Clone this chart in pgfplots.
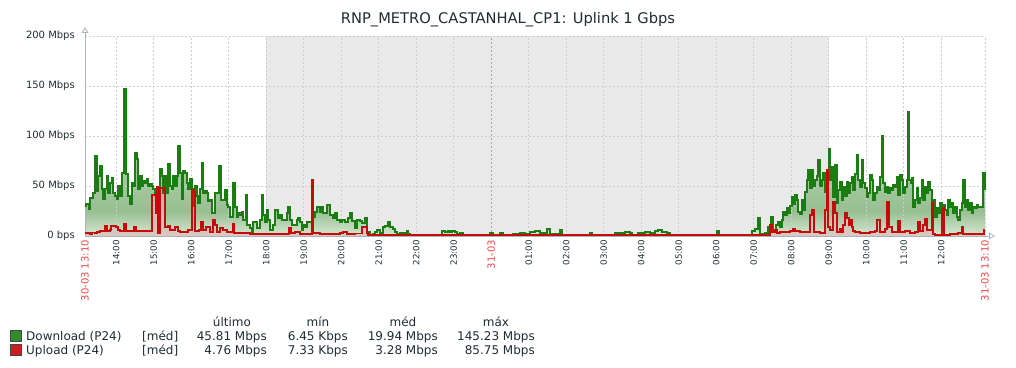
\documentclass[border=0pt]{standalone}
\usepackage{fontspec}
\setmainfont{DejaVu Sans}
\usepackage{pgfplots}
\pgfplotsset{compat=1.18}
\usetikzlibrary{arrows.meta}
\definecolor{zgreen}{HTML}{1A7C11}
\definecolor{zred}{HTML}{C40A0A}
\definecolor{gbot}{RGB}{214,231,209}
\definecolor{gmid}{RGB}{152,191,147}
\definecolor{gmidb}{RGB}{162,198,157}
\definecolor{gtop}{RGB}{176,207,171}
\definecolor{rtop}{RGB}{195,163,152}
\definecolor{rbot}{RGB}{216,201,193}
\definecolor{night}{RGB}{233,233,233}
\definecolor{gridc}{RGB}{200,208,214}
\definecolor{axisc}{RGB}{170,178,186}
\definecolor{txt}{RGB}{31,44,51}
\definecolor{datered}{RGB}{235,70,70}
\definecolor{legg}{RGB}{50,140,45}
\definecolor{legr}{RGB}{205,30,30}
\definecolor{legb}{RGB}{70,70,70}
\pgfdeclareverticalshading{gshade}{100bp}{color(0bp)=(gbot); color(25bp)=(gbot); color(33.5bp)=(gmid); color(42bp)=(gmidb); color(75bp)=(gtop); color(100bp)=(gtop)}

\pgfplotstableread{
x y
85 30
86 32
89 27
90 38
93 43
95 80
97 45
98 60
100 70
102 47
103 37
105 47
107 60
108 43
110 53
112 58
113 43
115 40
117 37
118 50
120 40
122 63
124 147
126 62
128 40
130 32
132 53
133 50
135 83
137 77
138 47
140 60
142 50
143 55
145 53
147 57
148 50
150 52
152 50
153 47
155 43
157 40
158 47
160 67
162 60
163 43
165 60
167 43
168 72
170 50
172 47
173 60
175 50
177 60
178 90
180 63
182 37
183 65
185 63
187 53
188 47
190 57
192 47
193 30
195 50
197 40
198 33
200 47
202 73
203 43
205 45
207 43
208 35
210 36
212 23
215 43
219 70
221 36
225 46
227 31
228 29
230 19
233 53
235 29
237 19
238 23
240 21
242 24
243 16
246 41
247 11
250 8
252 4
253 14
255 14
257 8
260 16
262 41
263 21
265 14
267 26
268 16
270 6
273 11
275 26
278 18
280 21
282 16
287 23
288 29
290 16
292 11
295 11
297 16
298 18
300 14
302 6
303 11
305 9
307 14
310 14
313 19
315 24
317 29
320 24
322 29
323 23
327 31
330 21
333 18
335 23
337 16
340 14
342 16
345 14
348 18
350 23
352 15
355 8
357 16
360 15
362 13
365 18
367 4
370 1
373 2
375 4
377 6
380 3
382 1
383 9
385 10
388 14
390 9
393 7
395 4
397 2
400 3
405 3
407 5
408 2
410 1
413 0.5
425 1
430 0.4
442 5
445 4
448 5
450 4
452 5
455 4
457 2
460 3
463 1
490 3
493 1
500 3
503 1
513 2
520 3
525 2
530 4
535 5
540 3
547 7
550 2
560 6
562 0.5
590 3
592 0.5
615 3
620 3
625 4
630 3
632 0.5
638 3
645 4
650 3
655 5
658 6
662 4
667 3
670 0.5
717 5
719 0.5
745 1
752 5
755 7
758 18
760 2
765 3
768 9
771 19
773 6
776 11
778 14
780 9
782 16
783 24
785 21
787 28
788 23
790 30
792 39
793 32
795 41
797 36
798 24
800 22
802 36
803 26
805 44
807 56
808 66
810 48
812 66
813 50
815 56
817 60
818 76
820 50
822 56
823 63
825 44
827 66
828 66
829 87
830 56
832 69
833 39
835 71
837 33
838 46
840 54
842 36
843 49
845 40
847 54
848 43
850 53
852 59
853 46
855 62
857 81
858 56
860 49
862 76
863 53
865 48
867 39
868 43
870 61
872 56
873 36
875 43
877 49
878 46
880 59
882 100
883 53
885 44
887 49
888 43
890 48
892 46
893 51
895 49
897 59
898 41
900 61
902 56
903 43
905 49
907 56
908 124
909 56
911 53
912 58
913 29
915 36
917 48
918 33
920 38
922 56
923 36
925 49
927 43
928 54
930 46
932 33
933 36
935 19
937 28
938 23
940 33
942 21
943 31
945 26
947 21
948 36
950 29
952 33
953 23
955 29
957 19
958 16
960 26
962 33
963 56
965 29
967 36
968 26
970 33
972 23
973 29
975 28
977 31
978 29
980 29
982 29
983 63
985 46
}\download

\pgfplotstableread{
x y
85 3
90 2
92 3.5
95 3
97 4
100 5
105 10
107 5
110 6
111 10
116 9
118 6
120 5
124 12
126 5
130 5
134 9
136 5
152 41
154 41
156 23
157 49
158 3
160 48
164 46
165 9
168 10
170 6
175 9
178 5
180 4
188 6
192 46
194 44
195 5
199 6
201 14
203 6
206 9
210 4
213 16
215 11
217 4
220 8
223 6
227 4
233 12
234 3
240 3
250 2
270 2
289 8
291 3
295 4
300 2
312 56
313 3
320 2
340 3
343 4
347 2
355 2.5
362 9
365 9
367 3
368 1
755 1
770 11
772 4
775 6
777 3
780 4
785 4
790 5
793 7
795 5
800 4
810 21
812 26
814 4
820 3
825 26
827 66
828 9
830 6
833 34
835 23
837 4
840 7
842 4
843 11
845 23
847 18
849 11
850 16
852 9
853 5
855 4
860 3
865 3
870 4
875 5
877 16
880 4
885 7
887 34
889 9
892 4
898 15
900 4
905 5
910 3
915 4
918 14
920 5
923 11
925 17
927 6
932 33
933 2
935 1
942 26
943 28
944 1
950 2
958 3
962 9
963 2
970 2
980 2
984 6
985 6
}\upload

\begin{document}
\begin{tikzpicture}
\path (0,0) rectangle (1016bp,368bp);
\node[anchor=base, font=\fontsize{14.67bp}{17bp}\selectfont, text=txt, inner sep=0pt] at (508bp,344bp) {RNP\_METRO\_CASTANHAL\_CP1: Uplink 1 Gbps};
\begin{axis}[
 at={(85bp,132bp)}, anchor=south west, scale only axis, width=900bp, height=200bp,
 xmin=85, xmax=985, ymin=0, ymax=200,
 set layers=standard,
 axis x line=bottom, axis y line=left,
 axis line style={axisc, line width=0.8bp},
 x axis line style={-{Triangle[open,length=6bp,width=7bp]}, shorten >=-10bp},
 y axis line style={-{Triangle[open,length=6bp,width=7bp]}, shorten >=-9bp},
 major tick length=0pt,
 ytick={0,50,100,150,200},
 yticklabels={0 bps,50 Mbps,100 Mbps,150 Mbps,200 Mbps},
 yticklabel style={font=\fontsize{10bp}{12bp}\selectfont, text=txt, anchor=east, inner xsep=10bp, inner ysep=0pt},
 xtick={116.25,153.75,191.25,228.75,266.25,303.75,341.25,378.75,416.25,453.75,528.75,566.25,603.75,641.25,678.75,716.25,753.75,791.25,828.75,866.25,903.75,941.25,985},
 xticklabels={14:00,15:00,16:00,17:00,18:00,19:00,20:00,21:00,22:00,23:00,01:00,02:00,03:00,04:00,05:00,06:00,07:00,08:00,09:00,10:00,11:00,12:00,{}},
 xticklabel style={font=\fontsize{8.67bp}{10bp}\selectfont, text=txt, rotate=90, anchor=east, inner xsep=4bp, inner ysep=0pt},
 extra x ticks={85,491.25,985},
 extra x tick labels={30-03 13:10,31-03,31-03 13:10},
 extra x tick style={xmajorgrids=false, xticklabel style={font=\fontsize{10bp}{12bp}\selectfont, text=datered}},
 xmajorgrids, ymajorgrids,
 grid style={gridc, line width=0.8bp, dash pattern=on 2bp off 2bp},
 clip=false,
]
\begin{pgfonlayer}{axis background}
\fill[night] (axis cs:266.25,0) rectangle (axis cs:828.75,200);
\end{pgfonlayer}
\begin{pgfonlayer}{axis grid}
\draw[gray!70, line width=0.8bp, dash pattern=on 2bp off 2bp] (axis cs:491.25,0) -- (axis cs:491.25,200);
\end{pgfonlayer}
\addplot[const plot, draw=none, shade, shading=gshade, on layer=axis background] table[x=x,y=y] {\download} \closedcycle;
\addplot[const plot, draw=none, top color=rtop, bottom color=rbot, on layer=axis background] table[x=x,y=y] {\upload} \closedcycle;
\addplot[const plot, zgreen, line width=1.3bp] table[x=x,y=y] {\download};
\addplot[const plot, zred, line width=1.3bp] table[x=x,y=y] {\upload};
\end{axis}
% legend
\begin{scope}[every node/.style={font=\fontsize{12bp}{14bp}\selectfont, text=txt, inner sep=0pt}]
\node[anchor=base] at (232bp,41.5bp) {último};
\node[anchor=base] at (318bp,41.5bp) {mín};
\node[anchor=base] at (403bp,41.5bp) {méd};
\node[anchor=base] at (496bp,41.5bp) {máx};
\filldraw[fill=legg, draw=legb, line width=0.8bp] (10.5bp,26.5bp) rectangle (21.5bp,37.5bp);
\filldraw[fill=legr, draw=legb, line width=0.8bp] (10.5bp,12.5bp) rectangle (21.5bp,23.5bp);
\node[anchor=base west] at (26bp,27.6bp) {Download (P24)};
\node[anchor=base west] at (142bp,27.6bp) {[méd]};
\node[anchor=base east] at (267bp,27.6bp) {45.81 Mbps};
\node[anchor=base east] at (348bp,27.6bp) {6.45 Kbps};
\node[anchor=base east] at (438bp,27.6bp) {19.94 Mbps};
\node[anchor=base east] at (535bp,27.6bp) {145.23 Mbps};
\node[anchor=base west] at (26bp,13.6bp) {Upload (P24)};
\node[anchor=base west] at (142bp,13.6bp) {[méd]};
\node[anchor=base east] at (267bp,13.6bp) {4.76 Mbps};
\node[anchor=base east] at (348bp,13.6bp) {7.33 Kbps};
\node[anchor=base east] at (438bp,13.6bp) {3.28 Mbps};
\node[anchor=base east] at (535bp,13.6bp) {85.75 Mbps};
\end{scope}
\end{tikzpicture}
\end{document}
